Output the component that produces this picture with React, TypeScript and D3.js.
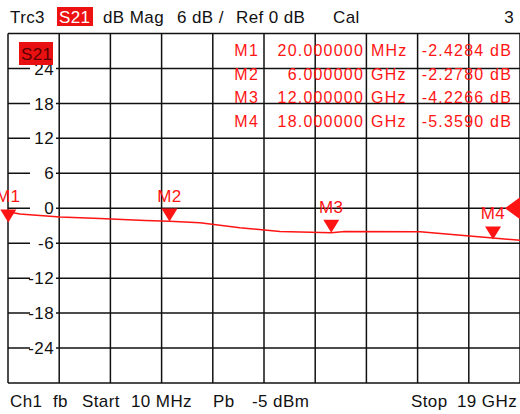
import * as d3 from "d3";

// trace (GHz, dB)
const traceFreq = [0.01, 0.45, 0.94, 1.94, 3.42, 5.09, 6.0, 7.13, 7.87, 8.61, 10.1, 12.0, 12.5, 15.3, 16.8, 18.0, 19.0];
const traceDb = [-0.6, -1.0, -1.15, -1.5, -1.75, -2.1, -2.25, -2.5, -2.9, -3.35, -4.0, -4.2, -4.0, -4.05, -4.65, -5.1, -5.5];

const markerNames = ["M1", "M2", "M3", "M4"];
const markerFreq = [0.02, 6, 12, 18];
const markerDb = [-2.4284, -2.278, -4.2266, -5.359];
const markerFreqText = ["20.000000", "6.000000", "12.000000", "18.000000"];
const markerUnit = ["MHz", "GHz", "GHz", "GHz"];

const yTicks = [24, 18, 12, 6, 0, -6, -12, -18, -24];
const startGHz = 0.01;
const stopGHz = 19;
const refDb = 0;
const dbPerDiv = 6;

const W = 520;
const H = 414;
const RED = "#ff1414";
const FONT = "'Liberation Sans', Arial, sans-serif";

const App = () => {
  const x = d3.scaleLinear().domain([startGHz, stopGHz]).range([8, 520]);
  const y = d3.scaleLinear().domain([refDb - 5 * dbPerDiv, refDb + 5 * dbPerDiv]).range([383, 33.5]);

  const vLines = d3.range(11).map((i) => x(startGHz + (i * (stopGHz - startGHz)) / 10));
  const hLines = d3.range(11).map((i) => y(refDb - 5 * dbPerDiv + i * dbPerDiv));

  const line = d3
    .line<number>()
    .x((_, i) => x(traceFreq[i]))
    .y((d) => y(d));

  const txt = { fontFamily: FONT, fontSize: 17, letterSpacing: 0.4 } as const;

  return (
    <svg width={W} height={H} style={{ position: "absolute", left: 0, top: 0, background: "#fff" }}>
      <rect width={W} height={H} fill="#fff" />

      {/* header */}
      <g style={txt} fill="#111">
        <text x={10} y={22.5}>Trc3</text>
        <rect x={57} y={7} width={36} height={19} fill="#ee1111" />
        <text x={59} y={22.5} fill="#fff">S21</text>
        <text x={103} y={22.5}>dB Mag</text>
        <text x={177} y={22.5}>6 dB /</text>
        <text x={236} y={22.5}>Ref 0 dB</text>
        <text x={333} y={22.5}>Cal</text>
        <text x={514} y={22.5} textAnchor="end">3</text>
      </g>

      {/* grid */}
      <g stroke="#111" strokeWidth={1.5}>
        {vLines.map((vx, i) => (
          <line key={"v" + i} x1={vx} x2={vx} y1={y.range()[1]} y2={y.range()[0]} />
        ))}
        {hLines.map((hy, i) => (
          <line key={"h" + i} x1={8} x2={520} y1={hy} y2={hy} />
        ))}
      </g>

      {/* y labels */}
      {yTicks.map((t) => (
        <g key={t}>
          <rect x={30} y={y(t) - 3} width={26} height={6} fill="#fff" />
          <text x={54} y={y(t)} dy="0.36em" textAnchor="end" style={txt} fill="#111">
            {t}
          </text>
        </g>
      ))}

      {/* marker table */}
      <g style={{ fontFamily: FONT, fontSize: 16, letterSpacing: 1.2 }} fill={RED}>
        {markerNames.map((m, i) => {
          const by = 56 + i * 23.6;
          return (
            <g key={m}>
              <text x={259} y={by} textAnchor="end">{m}</text>
              <text x={364} y={by} textAnchor="end">{markerFreqText[i]}</text>
              <text x={371} y={by}>{markerUnit[i]}</text>
              <text x={512} y={by} textAnchor="end">{markerDb[i].toFixed(4) + " dB"}</text>
            </g>
          );
        })}
      </g>

      {/* trace */}
      <path d={line(traceDb) || ""} fill="none" stroke={RED} strokeWidth={1.5} />

      {/* markers */}
      {markerNames.map((m, i) => {
        const mx = x(markerFreq[i]);
        const my = y(markerDb[i]);
        return (
          <g key={m}>
            <path d={`M${mx - 8},${my - 13}L${mx + 8},${my - 13}L${mx},${my}Z`} fill={RED} />
            <text x={mx} y={my - 20} textAnchor="middle" style={txt} fill={RED}>
              {m}
            </text>
          </g>
        );
      })}

      {/* reference level arrow */}
      <path
        d={`M${x(stopGHz) - 15},${y(refDb)}L${x(stopGHz)},${y(refDb) - 11}L${x(stopGHz)},${y(refDb) + 11}Z`}
        fill={RED}
      />

      {/* trace label */}
      <rect x={19} y={42} width={34} height={23} fill="#e81010" />
      <text x={21} y={60} style={txt} fill="#5a0000">S21</text>

      {/* footer */}
      <g style={txt} fill="#111">
        <text x={10} y={406.5}>Ch1</text>
        <text x={53} y={406.5}>fb</text>
        <text x={82} y={406.5}>Start</text>
        <text x={131} y={406.5}>10 MHz</text>
        <text x={213} y={406.5}>Pb</text>
        <text x={252} y={406.5}>-5 dBm</text>
        <text x={411} y={406.5}>Stop</text>
        <text x={457} y={406.5}>19 GHz</text>
      </g>
    </svg>
  );
};

export default App;
